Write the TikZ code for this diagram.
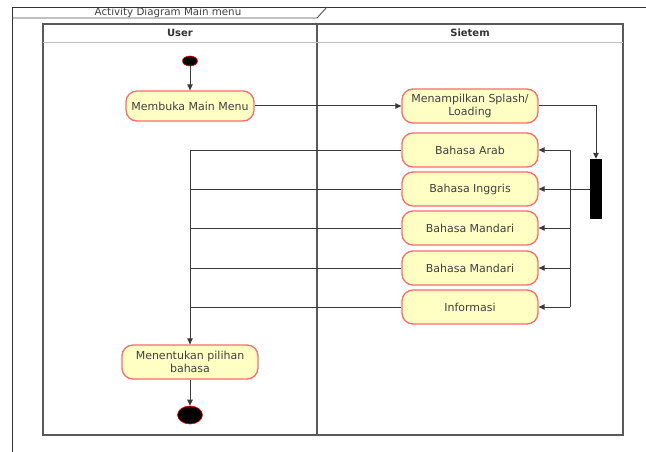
\documentclass[tikz,border=0pt]{standalone}
\usepackage{fontspec}
\setmainfont{DejaVu Sans}
\usetikzlibrary{arrows.meta,shapes.geometric}
\definecolor{actfill}{HTML}{FFFFC4}
\definecolor{actline}{HTML}{FF6A6A}
\definecolor{wire}{HTML}{3A3A3A}
\begin{document}
\begin{tikzpicture}[x=1pt,y=-1pt,
		act/.style={draw=actline,fill=actfill,line width=1.3pt,rounded corners=11pt,minimum width=136pt,minimum height=34pt,inner sep=1pt,align=center,text=black!75,font=\fontsize{11}{13}\selectfont},
		dot/.style={ellipse,fill=black,draw=red,line width=0.6pt,inner sep=0pt},
		flow/.style={draw=wire,line width=1pt,-{Triangle[length=6pt,width=5.5pt]}},
		wire/.style={draw=wire,line width=1pt},
		lane/.style={draw=black!65,line width=1.1pt}]
	\useasboundingbox (0,0) rectangle (646,452);
	% frame and swimlanes
	\draw[black!80,line width=0.9pt] (12,452) -- (12,7) -- (646,7);
	\draw[black!70,line width=0.9pt] (12,18) -- (317,18) -- (327,7);
	\node[text=black!75,font=\fontsize{10.3}{12}\selectfont,inner sep=0pt] (title) at (168,13) {Activity Diagram Main menu};
	\draw[lane] (43,24) rectangle (623,435);
	\draw[lane] (317,24) -- (317,435);
	\draw[black!25,line width=0.9pt] (43,42) -- (623,42);
	\node[font=\bfseries\fontsize{10}{12}\selectfont,text=black!80] (user) at (180,33) {User};
	\node[font=\bfseries\fontsize{10}{12}\selectfont,text=black!80] (sistem) at (470,33) {Sietem};
	% activities
	\node[dot,minimum width=15pt,minimum height=10pt] (start) at (190,61) {};
	\node[act,minimum width=128pt,minimum height=30pt] (membuka) at (190,106) {Membuka Main Menu};
	\node[act] (splash) at (470,106) {Menampilkan Splash/\\Loading};
	\node[act] (arab) at (470,150) {Bahasa Arab};
	\node[act] (inggris) at (470,189) {Bahasa Inggris};
	\node[act] (mandari) at (470,228) {Bahasa Mandari};
	\node[act] (mandaridua) at (470,268) {Bahasa Mandari};
	\node[act] (info) at (470,307) {Informasi};
	\node[act] (pilih) at (190,362) {Menentukan pilihan\\bahasa};
	\node[dot,minimum width=25pt,minimum height=18pt] (end) at (190,415) {};
	\node[fill=black,minimum width=12pt,minimum height=60pt,inner sep=0pt] (fork) at (596,189) {};
	\coordinate (bus) at (570,150);
	\coordinate (join) at (190,150);
	% flows
	\draw[flow] (start) -- (membuka);
	\draw[flow] (membuka) -- (splash);
	\draw[flow] (splash.east) -| (fork.north);
	\draw[flow] (fork) -- (inggris);
	\draw[wire] (bus) -- (bus |- info.east);
	\foreach \n in {arab,mandari,mandaridua,info}
		\draw[flow] (bus |- \n.east) -- (\n.east);
	\foreach \n in {arab,inggris,mandari,mandaridua,info}
		\draw[wire] (\n.west) -- (join |- \n.west);
	\draw[flow] (join) -- (pilih);
	\draw[flow] (pilih) -- (end);
\end{tikzpicture}
\end{document}
